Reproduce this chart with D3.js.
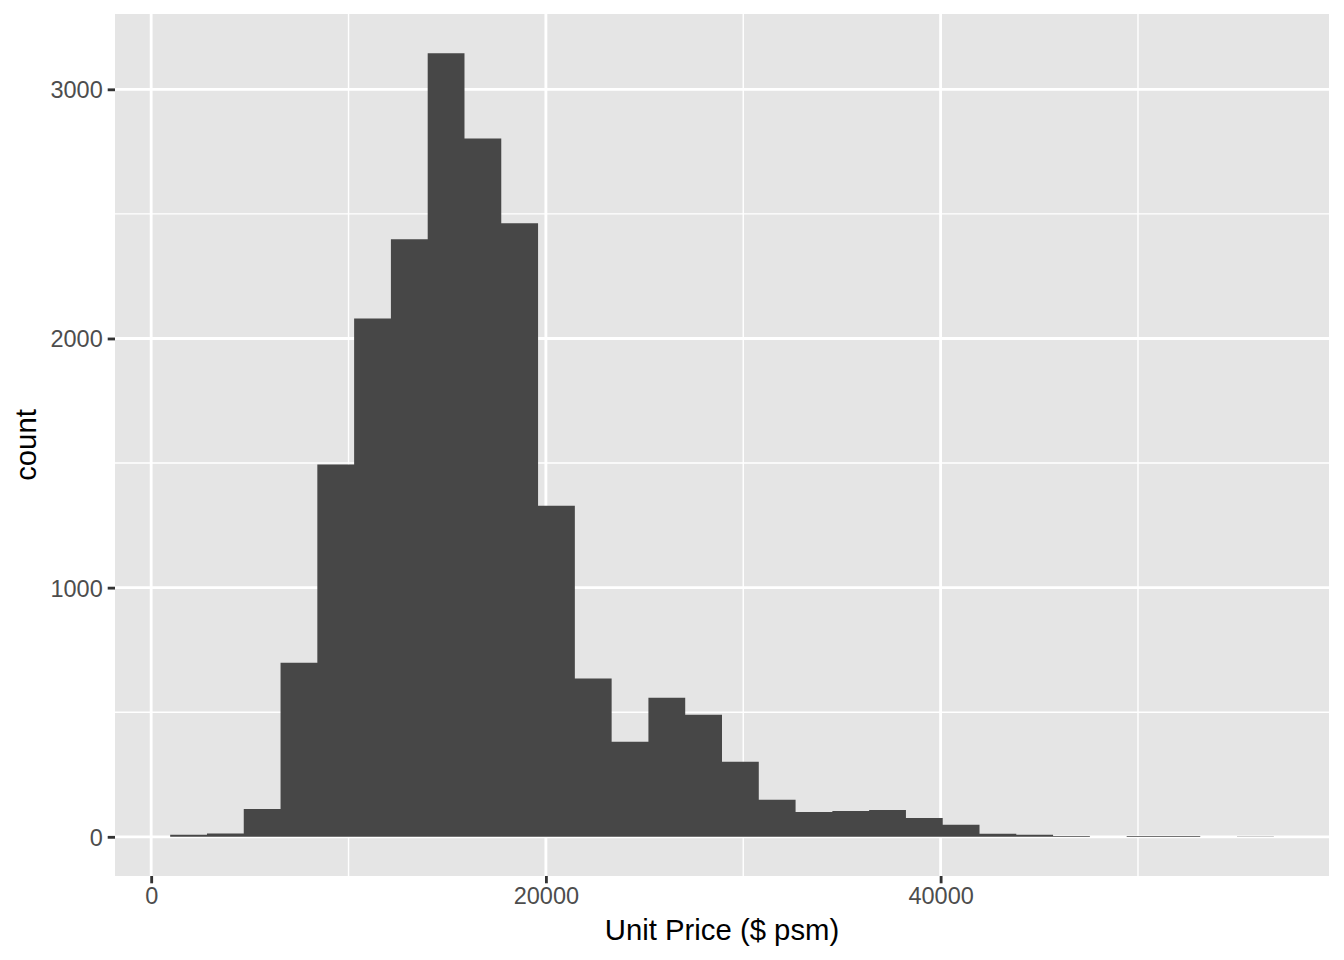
<!DOCTYPE html>
<html><head><meta charset="utf-8">
<script src="https://cdn.jsdelivr.net/npm/d3@7"></script>
<style>body{margin:0;background:#fff}svg{display:block}</style>
</head><body>
<script>
// Histogram data (30 bins)
const binStart = 963;      // lower edge of first bin ($ psm)
const binWidth = 1864;     // bin width ($ psm)
const counts = [8, 13, 112, 699, 1494, 2080, 2398, 3145, 2803, 2462,
                1329, 635, 382, 558, 490, 301, 149, 100, 104, 108,
                76, 48, 12, 8, 3, 0, 3, 3, 0, 1];
const xTicks = [0, 20000, 40000];
const xMinor = [10000, 30000, 50000];
const yTicks = [0, 1000, 2000, 3000];
const yMinor = [500, 1500, 2500];
const xTitle = "Unit Price ($ psm)";
const yTitle = "count";

const W = 1344, H = 960;
const panel = {left: 115, right: 1329, top: 14, bottom: 876};

const bins = counts.map((c, i) => ({x0: binStart + i * binWidth, x1: binStart + (i + 1) * binWidth, c}));
const xmin = bins[0].x0, xmax = bins[bins.length - 1].x1;
const xpad = (xmax - xmin) * 0.05;
const ymax = d3.max(counts), ypad = ymax * 0.05;

const x = d3.scaleLinear().domain([xmin - xpad, xmax + xpad]).range([panel.left, panel.right]);
const y = d3.scaleLinear().domain([-ypad, ymax + ypad]).range([panel.bottom, panel.top]);

const svg = d3.select("body").append("svg").attr("width", W).attr("height", H);
svg.append("rect").attr("width", W).attr("height", H).attr("fill", "#fff");
svg.append("rect").attr("x", panel.left).attr("y", panel.top)
  .attr("width", panel.right - panel.left).attr("height", panel.bottom - panel.top)
  .attr("fill", "#E5E5E5");

const g = svg.append("g");
// minor grid
g.selectAll(".xm").data(xMinor).join("line")
  .attr("x1", d => x(d)).attr("x2", d => x(d)).attr("y1", panel.top).attr("y2", panel.bottom)
  .attr("stroke", "#fff").attr("stroke-width", 1.42);
g.selectAll(".ym").data(yMinor).join("line")
  .attr("y1", d => y(d)).attr("y2", d => y(d)).attr("x1", panel.left).attr("x2", panel.right)
  .attr("stroke", "#fff").attr("stroke-width", 1.42);
// major grid
g.selectAll(".xM").data(xTicks).join("line")
  .attr("x1", d => x(d)).attr("x2", d => x(d)).attr("y1", panel.top).attr("y2", panel.bottom)
  .attr("stroke", "#fff").attr("stroke-width", 2.84);
g.selectAll(".yM").data(yTicks).join("line")
  .attr("y1", d => y(d)).attr("y2", d => y(d)).attr("x1", panel.left).attr("x2", panel.right)
  .attr("stroke", "#fff").attr("stroke-width", 2.84);

// bars (as one path so adjacent bars have no seams)
const barPath = d3.path();
bins.forEach(d => {
  if (d.c > 0) barPath.rect(x(d.x0), y(d.c), x(d.x1) - x(d.x0), y(0) - y(d.c));
});
svg.append("path").attr("d", barPath.toString()).attr("fill", "#474747");

// axes
const xAxis = d3.axisBottom(x).tickValues(xTicks).tickSize(7.3).tickPadding(4).tickFormat(d3.format("d"));
const yAxis = d3.axisLeft(y).tickValues(yTicks).tickSize(7.3).tickPadding(5).tickFormat(d3.format("d"));
const gx = svg.append("g").attr("transform", `translate(0,${panel.bottom})`).call(xAxis);
const gy = svg.append("g").attr("transform", `translate(${panel.left},0)`).call(yAxis);
[gx, gy].forEach(a => {
  a.select(".domain").remove();
  a.selectAll(".tick line").attr("stroke", "#333333").attr("stroke-width", 2.84);
  a.selectAll(".tick text").attr("fill", "#4D4D4D").style("font-family", "Liberation Sans, Arial, sans-serif").style("font-size", "23.5px");
});
gy.selectAll(".tick text").attr("dy", "0.36em");

svg.append("text").attr("x", (panel.left + panel.right) / 2).attr("y", 940)
  .attr("text-anchor", "middle").style("font-family", "Liberation Sans, Arial, sans-serif")
  .style("font-size", "29.3px").attr("fill", "#000").text(xTitle);
svg.append("text").attr("transform", `translate(36,${(panel.top + panel.bottom) / 2}) rotate(-90)`)
  .attr("text-anchor", "middle").style("font-family", "Liberation Sans, Arial, sans-serif")
  .style("font-size", "29.3px").attr("fill", "#000").text(yTitle);
</script>
</body></html>
